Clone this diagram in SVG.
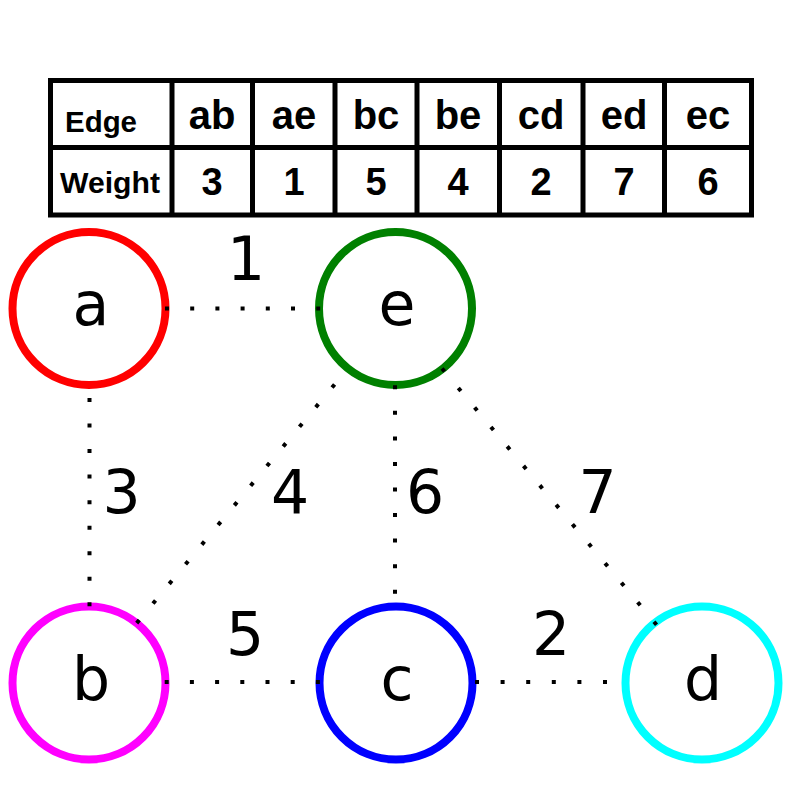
<svg xmlns="http://www.w3.org/2000/svg" width="800" height="800" viewBox="0 0 800 800">
<style>
.grid{fill:none;stroke:#000;stroke-width:5}
.hd{font-family:"Liberation Sans",Arial,sans-serif;font-weight:bold;fill:#000;text-anchor:middle}
.node{fill:#fff;stroke-width:8}
.lbl{font-family:"DejaVu Sans",sans-serif;font-size:60px;fill:#000;text-anchor:middle}
.edge{stroke:#000;stroke-width:4;fill:none;stroke-linecap:butt}
</style>
<rect x="0" y="0" width="800" height="800" fill="#fff"/>
<g id="table">
<rect x="50.5" y="80.5" width="701" height="134.5" fill="#fff" class="grid"/>
<path class="grid" d="M50.5 147.5H751.5M172 80.5V215M252.5 80.5V215M335 80.5V215M417 80.5V215M499.5 80.5V215M583 80.5V215M664.5 80.5V215"/>
<text class="hd" x="65" y="132" font-size="29" style="text-anchor:start" textLength="72" lengthAdjust="spacingAndGlyphs">Edge</text>
<text class="hd" x="110" y="193" font-size="29" textLength="100" lengthAdjust="spacingAndGlyphs">Weight</text>
<g font-size="40">
<text class="hd" x="212" y="129">ab</text>
<text class="hd" x="294" y="129">ae</text>
<text class="hd" x="376" y="129">bc</text>
<text class="hd" x="458" y="129">be</text>
<text class="hd" x="541" y="129">cd</text>
<text class="hd" x="624" y="129">ed</text>
<text class="hd" x="708" y="129">ec</text>
</g>
<g font-size="38">
<text class="hd" x="212" y="195">3</text>
<text class="hd" x="294" y="195">1</text>
<text class="hd" x="376" y="195">5</text>
<text class="hd" x="458" y="195">4</text>
<text class="hd" x="541" y="195">2</text>
<text class="hd" x="624" y="195">7</text>
<text class="hd" x="708" y="195">6</text>
</g>
</g>
<g id="node-a"><circle class="node" cx="89" cy="308.5" r="76.5" stroke="#ff0000"/><text class="lbl" x="91" y="325">a</text></g>
<g id="node-e"><circle class="node" cx="395.5" cy="308.5" r="76.5" stroke="#008000"/><text class="lbl" x="397" y="325">e</text></g>
<g id="node-b"><circle class="node" cx="89" cy="683" r="76.5" stroke="#ff00ff"/><text class="lbl" x="91" y="700">b</text></g>
<g id="node-c"><circle class="node" cx="396" cy="683" r="76.5" stroke="#0000ff"/><text class="lbl" x="397" y="700">c</text></g>
<g id="node-d"><circle class="node" cx="702" cy="683" r="76.5" stroke="#00ffff"/><text class="lbl" x="703" y="700">d</text></g>
<g id="connectors">
<line class="edge" x1="165" y1="308.5" x2="321" y2="308.5" stroke-dasharray="4 21.2"/>
<line class="edge" x1="89.5" y1="398" x2="89.5" y2="606.5" stroke-dasharray="4 21.54"/>
<line class="edge" x1="395" y1="385.3" x2="395" y2="593.7" stroke-dasharray="4 21.55"/>
<line class="edge" x1="442" y1="368.5" x2="656.6" y2="624.8" stroke-dasharray="4 21.4"/>
<line class="edge" x1="334.6" y1="384.5" x2="136.4" y2="623.5" stroke-dasharray="4 21.5"/>
<line class="edge" x1="164.7" y1="682" x2="320" y2="682" stroke-dasharray="4 21.2"/>
<line class="edge" x1="475" y1="682" x2="607" y2="682" stroke-dasharray="4 21.6"/>
<text class="lbl" x="246" y="280">1</text>
<text class="lbl" x="121.5" y="513">3</text>
<text class="lbl" x="290" y="513">4</text>
<text class="lbl" x="425" y="513">6</text>
<text class="lbl" x="597.5" y="513">7</text>
<text class="lbl" x="245" y="655">5</text>
<text class="lbl" x="551" y="655">2</text>
</g>
</svg>
